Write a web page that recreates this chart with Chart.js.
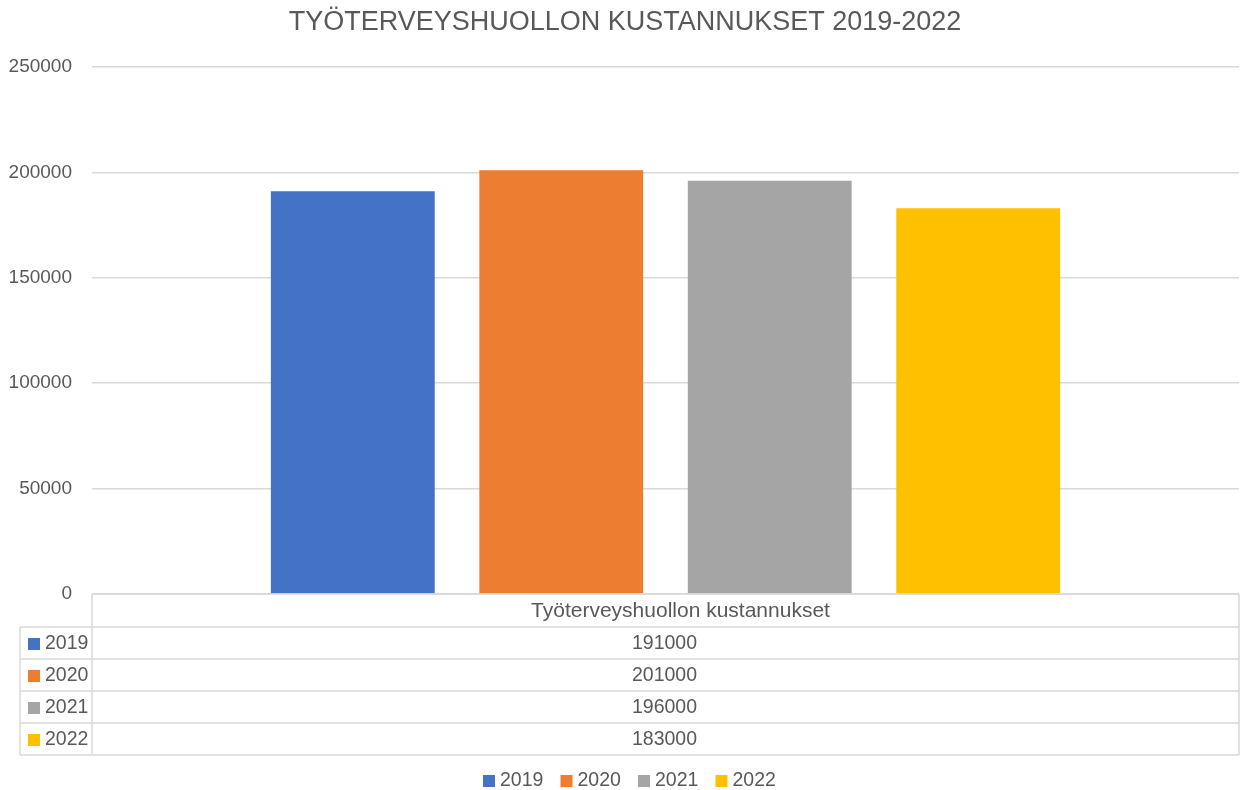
<!DOCTYPE html>
<html><head><meta charset="utf-8">
<script src="https://cdn.jsdelivr.net/npm/chart.js@4.4.1/dist/chart.umd.min.js"></script>
<style>html,body{margin:0;padding:0;background:#fff}#wrap{width:1240px;height:790px}</style>
</head><body><div id="wrap"><canvas id="c" width="1240" height="790"></canvas></div>
<script>
const title = "TYÖTERVEYSHUOLLON KUSTANNUKSET 2019-2022";
const categories = ["Työterveyshuollon kustannukset"];
const seriesNames = ["2019", "2020", "2021", "2022"];
const seriesValues = [191000, 201000, 196000, 183000];
const seriesColors = ["#4472C4", "#ED7D31", "#A5A5A5", "#FFC000"];
const yTicks = [0, 50000, 100000, 150000, 200000, 250000];

const FONT = "'Liberation Sans', Arial, sans-serif";
const TXT = "#595959";
const LINE = "#d9d9d9";

const extras = {
  id: 'extras',
  afterDraw(chart) {
    const ctx = chart.ctx, a = chart.chartArea;
    ctx.save();
    // title
    ctx.fillStyle = TXT;
    ctx.font = "27px " + FONT;
    ctx.textAlign = "center"; ctx.textBaseline = "middle";
    ctx.fillText(title, 625, 23);
    // table
    const left = 20, rowH0 = 33, rowH = 32;
    const top = a.bottom;
    ctx.strokeStyle = LINE; ctx.lineWidth = 1.5;
    ctx.beginPath();
    ctx.moveTo(a.left, top); ctx.lineTo(a.right, top);
    for (let i = 0; i <= seriesNames.length; i++) {
      const y = top + rowH0 + i * rowH;
      ctx.moveTo(left, y); ctx.lineTo(a.right, y);
    }
    const bottom = top + rowH0 + seriesNames.length * rowH;
    ctx.moveTo(a.left, top); ctx.lineTo(a.left, bottom);
    ctx.moveTo(a.right, top); ctx.lineTo(a.right, bottom);
    ctx.moveTo(left, top + rowH0); ctx.lineTo(left, bottom);
    ctx.stroke();
    const cx = (a.left + a.right) / 2 - 1;
    ctx.fillStyle = TXT; ctx.font = "21px " + FONT;
    ctx.textAlign = "center";
    ctx.fillText(categories[0], cx + 16, top + rowH0 / 2 + 1);
    ctx.font = "19.5px " + FONT;
    for (let i = 0; i < seriesNames.length; i++) {
      const yc = top + rowH0 + i * rowH + rowH / 2 + 1;
      ctx.fillStyle = seriesColors[i];
      ctx.fillRect(28, yc - 6, 12, 12);
      ctx.fillStyle = TXT; ctx.textAlign = "left";
      ctx.fillText(seriesNames[i], 45, yc);
      ctx.textAlign = "center";
      ctx.fillText(String(seriesValues[i]), cx, yc);
    }
    // legend
    const ly = 781;
    let x = 483;
    for (let i = 0; i < seriesNames.length; i++) {
      ctx.fillStyle = seriesColors[i];
      ctx.fillRect(x, ly - 6, 12, 12);
      ctx.fillStyle = TXT; ctx.textAlign = "left";
      ctx.fillText(seriesNames[i], x + 17, ly);
      x += 77.5;
    }
    ctx.restore();
  }
};

new Chart(document.getElementById('c'), {
  type: 'bar',
  data: {
    labels: categories,
    datasets: seriesNames.map((n, i) => ({
      label: n,
      data: [seriesValues[i]],
      backgroundColor: seriesColors[i],
      categoryPercentage: 0.727,
      barPercentage: 0.786
    }))
  },
  options: {
    responsive: false,
    animation: false,
    layout: { padding: { left: 0, right: 1, top: 67, bottom: 196 } },
    plugins: { legend: { display: false }, tooltip: { enabled: false }, title: { display: false } },
    scales: {
      x: { display: false },
      y: {
        min: 0, max: 250000,
        afterFit(s) { s.width = 92; },
        afterBuildTicks(s) { s.ticks = yTicks.map(v => ({ value: v })); },
        border: { display: false },
        grid: { color: LINE, lineWidth: 1.5, drawTicks: false },
        ticks: { color: TXT, font: { family: FONT, size: 19 }, padding: 20, callback: v => String(v) }
      }
    }
  },
  plugins: [extras]
});
</script></body></html>
